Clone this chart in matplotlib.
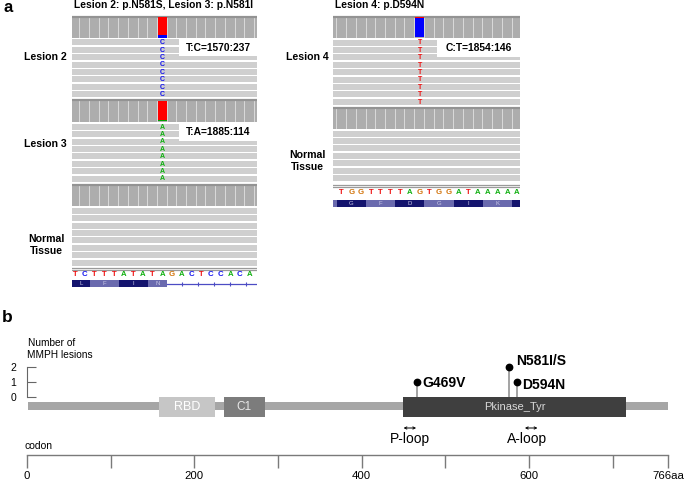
import matplotlib
matplotlib.use("Agg")
import matplotlib.pyplot as plt
from matplotlib.patches import Rectangle
import numpy as np

plt.rcParams['font.family'] = ['Liberation Sans', 'DejaVu Sans']

# ---------------- data ----------------
ref_left = list("TCTTTATATAGACTCCACA")
ref_right = list("TGGTTTTAGTGGATAAAAA")
aa_left = ["L", "F", "I", "N"]
aa_left_start = [-1, 2, 5, 8]
aa_left_end = [2, 5, 8, 10]
aa_right = ["", "G", "F", "D", "G", "I", "K", ""]
aa_right_start = [-3, 0, 3, 6, 9, 12, 15, 18]
aa_right_end = [0, 3, 6, 9, 12, 15, 18, 21]

lesion_names = ["Lesion 2", "Lesion 3", "Lesion 4"]
ref_allele = ["T", "T", "C"]
alt_allele = ["C", "A", "T"]
ref_count = [1570, 1885, 1854]
alt_count = [237, 114, 146]
variant_col = [9, 9, 8]
reads_shown = [8, 8, 9]
normal_reads_shown = [8, 7]

domain_names = ["RBD", "C1", "Pkinase_Tyr"]
domain_start = [158, 235, 449]
domain_end = [225, 284, 716]
protein_length = 766
mut_labels = ["G469V", "N581I/S", "D594N"]
mut_pos = [466, 576, 586]
mut_count = [1, 2, 1]
loop_labels = ["P-loop", "A-loop"]
loop_start = [450, 595]
loop_end = [465, 610]
codon_ticks = [0, 100, 200, 300, 400, 500, 600, 700, 766]
codon_ticklabels = ["0", "", "200", "", "400", "", "600", "", "766aa"]
count_ticks = [0, 1, 2]

# ---------------- style ----------------
BASE_COL = {"A": "#10b010", "C": "#1010ee", "G": "#d17105", "T": "#ee1010"}
BAR_COL = {"A": "#00a000", "C": "#0000ff", "G": "#d17105", "T": "#ff0000"}
W, H = 685, 484
fig = plt.figure(figsize=(W / 100, H / 100), dpi=100)


def px_axes(x0, y0, x1, y1):
    return fig.add_axes([x0 / W, 1 - y1 / H, (x1 - x0) / W, (y1 - y0) / H])


def ftext(x, y, s, **kw):
    fig.text(x / W, 1 - y / H, s, **kw)


def coverage(ax, top, bottom, xlo, xhi, var=None):
    ax.add_patch(Rectangle((xlo, top), xhi - xlo, bottom - top, color="#d8d8d8", lw=0))
    cols = np.arange(int(np.floor(xlo)) - 1, int(np.ceil(xhi)) + 1)
    ax.bar(cols + 0.5, bottom - top - 1.5, bottom=top + 1.5, width=0.9,
           color="#adadad", lw=0)
    ax.plot([xlo, xhi], [top + 0.8, top + 0.8], color="#939393", lw=1.6)
    if var is not None:
        col, alleles = var
        total = sum(alleles.values())
        cur = bottom
        for b in "ACGT":
            if b in alleles:
                h = (bottom - top - 1.0) * alleles[b] / total
                ax.bar(col + 0.5, h, bottom=cur - h, width=0.94,
                       color=BAR_COL[b], lw=0, zorder=3)
                cur -= h


def reads(ax, first, n, xlo, xhi, col=None, base=None):
    centers = first + 7.4 * np.arange(n)
    ax.barh(centers, xhi - xlo, left=xlo, height=5.9, color="#cfcfcf", lw=0)
    if base is not None:
        for c in centers:
            ax.text(col + 0.5, c + 0.3, base, color=BASE_COL[base], fontsize=5,
                    fontweight="bold", ha="center", va="center")
    return centers


def info_box(ax, x0, x1, top, bottom, s):
    ax.add_patch(Rectangle((x0, top), x1 - x0, bottom - top, color="white", lw=0, zorder=3))
    ax.text((x0 + x1) / 2, (top + bottom) / 2, s, fontsize=7.4, fontweight="bold",
            ha="center", va="center", zorder=4)


def ref_track(ax, seq, sep_y, letter_y, aa_top, aa_bot, xlo, xhi,
              aa, aa_s, aa_e, first_dark=True):
    for yy in sep_y:
        ax.plot([xlo, xhi], [yy, yy], color="#9a9a9a", lw=0.9)
    for i, b in enumerate(seq):
        ax.text(i + 0.5, letter_y, b, color=BASE_COL[b], fontsize=5.6,
                fontweight="bold", ha="center", va="center")
    for k, (name, s, e) in enumerate(zip(aa, aa_s, aa_e)):
        dark = (k % 2 == 0) == first_dark
        ax.add_patch(Rectangle((s, aa_top), e - s, aa_bot - aa_top,
                               color="#14146e" if dark else "#6a6aae", lw=0))
        if name:
            ax.text((max(s, xlo) + e) / 2 if s < xlo else (s + e) / 2,
                    (aa_top + aa_bot) / 2 + 0.3, name, color="#c9c9e6",
                    fontsize=4.3, ha="center", va="center")


# ---------------- panel a, left ----------------
xl0, xl1 = 0.19, 19.26
axL = px_axes(72, 14, 257, 290)
axL.set_xlim(xl0, xl1)
axL.set_ylim(290, 14)
axL.axis("off")

coverage(axL, 16, 38, xl0, xl1, (variant_col[0], {ref_allele[0]: ref_count[0],
                                                   alt_allele[0]: alt_count[0]}))
reads(axL, 42.4, reads_shown[0], xl0, xl1, variant_col[0], alt_allele[0])
info_box(axL, 11.22, xl1, 39.3, 56, f"{ref_allele[0]}:{alt_allele[0]}={ref_count[0]}:{alt_count[0]}")

coverage(axL, 99.5, 121.5, xl0, xl1, (variant_col[1], {ref_allele[1]: ref_count[1],
                                                       alt_allele[1]: alt_count[1]}))
reads(axL, 126.8, reads_shown[1], xl0, xl1, variant_col[1], alt_allele[1])
info_box(axL, 11.22, xl1, 123.5, 140.5, f"{ref_allele[1]}:{alt_allele[1]}={ref_count[1]}:{alt_count[1]}")

coverage(axL, 184, 206, xl0, xl1)
reads(axL, 210.8, normal_reads_shown[0], xl0, xl1)

ref_track(axL, ref_left, [267.5, 269.5], 274.5, 280, 287, xl0, xl1,
          aa_left, aa_left_start, aa_left_end)
# intron line
axL.plot([10, xl1], [283.5, 283.5], color="#4c4cc4", lw=0.9)
ticks_x = np.arange(11.5, 19.3, 1.65)
axL.plot(ticks_x, [283.5] * len(ticks_x), ls="none", marker="|", ms=2.5,
         color="#4c4cc4", mew=0.8)

# ---------------- panel a, right ----------------
xr0, xr1 = -0.39, 18.81
axR = px_axes(333, 14, 520, 210)
axR.set_xlim(xr0, xr1)
axR.set_ylim(210, 14)
axR.axis("off")

coverage(axR, 16, 37.5, xr0, xr1, (variant_col[2], {ref_allele[2]: ref_count[2],
                                                    alt_allele[2]: alt_count[2]}))
reads(axR, 42.6, reads_shown[2], xr0, xr1, variant_col[2], alt_allele[2])
info_box(axR, 10.29, xr1, 39.3, 57, f"{ref_allele[2]}:{alt_allele[2]}={ref_count[2]}:{alt_count[2]}")

coverage(axR, 107, 129, xr0, xr1)
reads(axR, 133.6, normal_reads_shown[1], xr0, xr1)

ref_track(axR, ref_right, [185.5, 187.5], 193, 199.5, 207, xr0, xr1,
          aa_right, aa_right_start, aa_right_end, first_dark=False)

# panel a labels
ftext(3, 8, "a", fontsize=12, fontweight="bold", ha="left", va="center")
ftext(164, 5.5, "Lesion 2: p.N581S, Lesion 3: p.N581I", fontsize=7.4,
      fontweight="bold", ha="center", va="center")
ftext(379.5, 5.5, "Lesion 4: p.D594N", fontsize=7.4, fontweight="bold",
      ha="center", va="center")
ftext(45, 57, lesion_names[0], fontsize=7.6, fontweight="bold", ha="center", va="center")
ftext(45, 144, lesion_names[1], fontsize=7.6, fontweight="bold", ha="center", va="center")
ftext(46, 245, "Normal\nTissue", fontsize=7.6, fontweight="bold", ha="center",
      va="center", linespacing=1.3)
ftext(307, 57, lesion_names[2], fontsize=7.6, fontweight="bold", ha="center", va="center")
ftext(307, 161, "Normal\nTissue", fontsize=7.6, fontweight="bold", ha="center",
      va="center", linespacing=1.3)

# ---------------- panel b ----------------
axB = px_axes(27, 367, 668, 397)
axB.set_xlim(0, protein_length)
axB.set_ylim(0, 2)
axB.patch.set_visible(False)
for s in ["top", "right", "bottom"]:
    axB.spines[s].set_visible(False)
axB.spines["left"].set_bounds(0, 2)
axB.spines["left"].set_color("#666666")
axB.spines["left"].set_linewidth(0.8)
axB.set_xticks([])
axB.set_yticks(count_ticks)
axB.tick_params(axis="y", direction="in", length=6.5, width=0.8, color="#666666",
                labelsize=7.5, pad=8)


def yc(py):
    return (397 - py) / 15.0


axB.add_patch(Rectangle((1, yc(410)), protein_length - 1, yc(402) - yc(410),
                        color="#a6a6a6", lw=0, clip_on=False, zorder=1))
dom_col = ["#c6c6c6", "#7c7c7c", "#3f3f3f"]
dom_txt = ["white", "#e8e8e8", "#d8d8d8"]
dom_fs = [9, 8.5, 8]
for name, s, e, c, tc, fs in zip(domain_names, domain_start, domain_end, dom_col,
                                 dom_txt, dom_fs):
    axB.add_patch(Rectangle((s, yc(417)), e - s, yc(397) - yc(417), color=c, lw=0,
                            clip_on=False, zorder=2))
    axB.text((s + e) / 2, yc(407), name, color=tc, fontsize=fs, ha="center",
             va="center", zorder=3, clip_on=False)

axB.vlines(mut_pos, 0, mut_count, color="#8a8a8a", lw=1.1, clip_on=False, zorder=3)
axB.plot(mut_pos, mut_count, "o", color="black", ms=4.6, clip_on=False, zorder=4)
lab_off = [(3.6, -0.5), (5.0, 4.3), (3.6, -2.2)]
for lab, p, c, off in zip(mut_labels, mut_pos, mut_count, lab_off):
    axB.annotate(lab, (p, c), xytext=off, textcoords="offset points", fontsize=10,
                 fontweight="bold", ha="left", va="center", annotation_clip=False)

loop_text_x = [457.5, 598]
for lab, s, e, tx in zip(loop_labels, loop_start, loop_end, loop_text_x):
    axB.annotate("", xy=(e, yc(428)), xytext=(s, yc(428)),
                 arrowprops=dict(arrowstyle="<->", lw=0.7, mutation_scale=4,
                                 shrinkA=0, shrinkB=0), annotation_clip=False)
    axB.text(tx, yc(439.5), lab, fontsize=10, ha="center", va="center", clip_on=False)

ftext(28, 343, "Number of", fontsize=7.3, ha="left", va="center")
ftext(27, 355, "MMPH lesions", fontsize=7.3, ha="left", va="center")
ftext(2, 318, "b", fontsize=12.5, fontweight="bold", ha="left", va="center")
ftext(25, 446, "codon", fontsize=7.5, ha="left", va="center")

# codon axis
axC = px_axes(27, 454, 668, 455)
axC.set_xlim(0, protein_length)
axC.patch.set_visible(False)
for s in ["top", "right", "left"]:
    axC.spines[s].set_visible(False)
axC.spines["bottom"].set_color("#7a7a7a")
axC.spines["bottom"].set_linewidth(1.0)
axC.set_yticks([])
axC.set_xticks(codon_ticks)
axC.set_xticklabels(codon_ticklabels)
axC.tick_params(axis="x", direction="out", length=9.4, width=1.0, color="#7a7a7a",
                labelsize=8.2, pad=2)

fig.savefig("out.png", dpi=100)
